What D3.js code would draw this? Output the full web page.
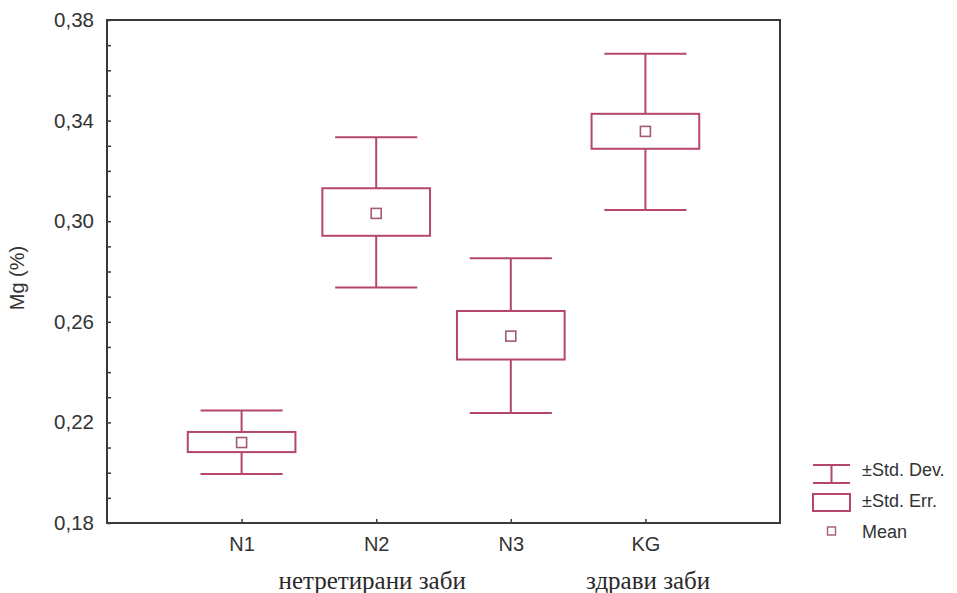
<!DOCTYPE html>
<html><head><meta charset="utf-8">
<script src="https://cdn.jsdelivr.net/npm/d3@7"></script>
<style>body{margin:0;background:#fff;} svg{display:block;}</style>
</head><body>
<svg id="c" width="957" height="593"></svg>
<script>
const categories = ["N1", "N2", "N3", "KG"];
const means  = [0.2120, 0.3031, 0.2543, 0.3357];
const seLow  = [0.2082, 0.2942, 0.2450, 0.3288];
const seHigh = [0.2162, 0.3131, 0.2643, 0.3427];
const sdLow  = [0.1995, 0.2736, 0.2237, 0.3045];
const sdHigh = [0.2247, 0.3334, 0.2853, 0.3666];
const yTicks = [0.18, 0.22, 0.26, 0.30, 0.34, 0.38];
const yMinor = d3.range(0.18, 0.3801, 0.01);
const yTitle = "Mg (%)";
const groupLabels = [{text: "нетретирани заби", pos: 1.97}, {text: "здрави заби", pos: 4.02}];
const legendItems = ["±Std. Dev.", "±Std. Err.", "Mean"];

const col = "#b4476a", meanCol = "#a35a72", axisCol = "#3a3a3a";
const svg = d3.select("#c");
const L = 107, R = 780, T = 20, B = 523;
const x = d3.scaleLinear().domain([0, 5]).range([L, R]);
const y = d3.scaleLinear().domain([0.18, 0.38]).range([B, T]);
const sans = "'Liberation Sans', Arial, sans-serif";

// frame
svg.append("rect").attr("x", L).attr("y", T).attr("width", R - L).attr("height", B - T)
  .attr("fill", "none").attr("stroke", axisCol).attr("stroke-width", 2);

// y axis
const ya = svg.append("g").attr("transform", `translate(${L},0)`)
  .call(d3.axisLeft(y).tickValues(yTicks).tickSize(0).tickPadding(13)
    .tickFormat(d => d3.format(".2f")(d).replace(".", ",")));
ya.select(".domain").remove();
ya.selectAll("text").attr("font-family", sans).attr("font-size", 20.5).attr("fill", "#333");
svg.append("g").attr("transform", `translate(${L},0)`)
  .call(d3.axisRight(y).tickValues(yMinor).tickSize(4).tickFormat(""))
  .call(g => g.select(".domain").remove())
  .selectAll("line").attr("stroke", axisCol).attr("stroke-width", 1.5);

// x axis
const xa = svg.append("g").attr("transform", `translate(0,${B})`)
  .call(d3.axisBottom(x).tickValues([1, 2, 3, 4]).tickSize(0).tickPadding(14)
    .tickFormat(d => categories[d - 1]));
xa.select(".domain").remove();
xa.selectAll("text").attr("font-family", sans).attr("font-size", 20).attr("fill", "#333");
svg.append("g").attr("transform", `translate(0,${B})`)
  .call(d3.axisTop(x).tickValues([1, 2, 3, 4]).tickSize(4).tickFormat(""))
  .call(g => g.select(".domain").remove())
  .selectAll("line").attr("stroke", axisCol).attr("stroke-width", 1.5);

// y title
svg.append("text").attr("transform", "translate(24,278) rotate(-90)")
  .attr("text-anchor", "middle").attr("font-family", sans).attr("font-size", 20)
  .attr("fill", "#333").text(yTitle);

// group labels
groupLabels.forEach(g => {
  svg.append("text").attr("x", x(g.pos)).attr("y", 589).attr("text-anchor", "middle")
    .attr("font-family", "'Liberation Serif', 'Times New Roman', serif").attr("font-size", 25)
    .attr("fill", "#2a2a2a").text(g.text);
});

// boxes
const data = categories.map((c, i) => ({c, i, m: means[i], sl: seLow[i], sh: seHigh[i], dl: sdLow[i], dh: sdHigh[i]}));
const g = svg.append("g").attr("fill", "none").attr("stroke", col).attr("stroke-width", 2);
data.forEach(d => {
  const cx = x(d.i + 1);
  const capW = x(0.305) - x(0), boxW = x(0.4) - x(0);
  g.append("line").attr("x1", cx).attr("x2", cx).attr("y1", y(d.dh)).attr("y2", y(d.sh));
  g.append("line").attr("x1", cx).attr("x2", cx).attr("y1", y(d.sl)).attr("y2", y(d.dl));
  g.append("line").attr("x1", cx - capW).attr("x2", cx + capW).attr("y1", y(d.dh)).attr("y2", y(d.dh));
  g.append("line").attr("x1", cx - capW).attr("x2", cx + capW).attr("y1", y(d.dl)).attr("y2", y(d.dl));
  g.append("rect").attr("x", cx - boxW).attr("width", 2 * boxW)
    .attr("y", y(d.sh)).attr("height", y(d.sl) - y(d.sh));
  g.append("rect").attr("x", cx - 5).attr("y", y(d.m) - 5).attr("width", 10).attr("height", 10)
    .attr("stroke", meanCol).attr("stroke-width", 1.6);
});

// legend
const lg = svg.append("g");
const lx1 = 813, lx2 = 850, lcx = 831.5;
lg.append("line").attr("x1", lx1).attr("x2", lx2).attr("y1", 465).attr("y2", 465);
lg.append("line").attr("x1", lx1).attr("x2", lx2).attr("y1", 483).attr("y2", 483);
lg.append("line").attr("x1", lcx).attr("x2", lcx).attr("y1", 465).attr("y2", 483);
lg.append("rect").attr("x", lx1).attr("y", 494).attr("width", lx2 - lx1).attr("height", 17)
  .attr("fill", "none").attr("stroke", col).attr("stroke-width", 2);
lg.append("rect").attr("x", lcx - 4).attr("y", 527).attr("width", 8).attr("height", 8).attr("fill", "none")
  .attr("stroke", meanCol).attr("stroke-width", 1.4);
lg.selectAll("line").attr("stroke", col).attr("stroke-width", 2);
legendItems.forEach((t, i) => {
  lg.append("text").attr("x", 862).attr("y", 476 + i * 31).attr("font-family", sans)
    .attr("font-size", 18).attr("fill", "#333").text(t);
});
</script>
</body></html>
